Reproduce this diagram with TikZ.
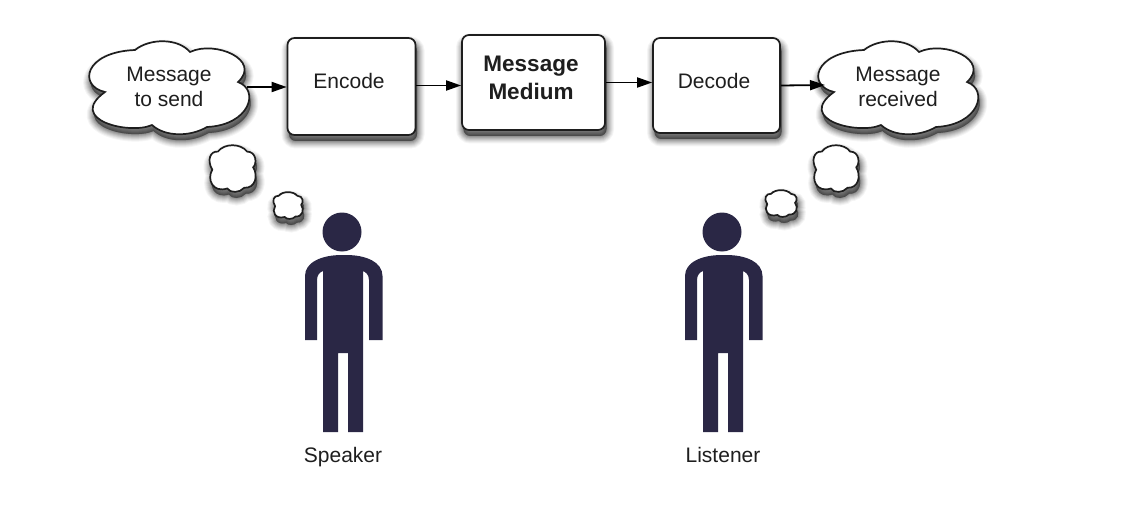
\documentclass[tikz,border=0pt]{standalone}
\usepackage{fontspec}
\setmainfont{Liberation Sans}
\usetikzlibrary{arrows.meta}
\definecolor{figure}{HTML}{2A2745}
\definecolor{inkc}{HTML}{1E1E1E}
\tikzset{
  softshadow/.style={
    preaction={fill=black,draw=black,opacity=.04,line width=15pt,transform canvas={shift={(1.5pt,-6pt)}}},
    preaction={fill=black,draw=black,opacity=.05,line width=13pt,transform canvas={shift={(1.5pt,-6pt)}}},
    preaction={fill=black,draw=black,opacity=.06,line width=11pt,transform canvas={shift={(1.5pt,-6pt)}}},
    preaction={fill=black,draw=black,opacity=.07,line width=9pt,transform canvas={shift={(1.5pt,-6pt)}}},
    preaction={fill=black,draw=black,opacity=.08,line width=7pt,transform canvas={shift={(1.5pt,-6pt)}}},
    preaction={fill=black,draw=black,opacity=.09,line width=5pt,transform canvas={shift={(1.5pt,-6pt)}}},
    preaction={fill=black,draw=black,opacity=.10,line width=3pt,transform canvas={shift={(1.5pt,-6pt)}}},
    preaction={fill=black,draw=black,opacity=.12,line width=1pt,transform canvas={shift={(1.5pt,-6pt)}}}},
  outline/.style={draw=inkc,line width=1.7pt,fill=white,softshadow},
  stepbox/.style={outline,rounded corners=7pt,inner sep=0pt,minimum width=#1},
  label text/.style={text=inkc,align=center,font=\fontsize{21}{24.5}\selectfont},
  flow/.style={draw=black,line width=1.8pt,-{Triangle[length=15pt,width=10pt]}},
  bigcloud/.pic={
    \draw[outline] (105,92) .. controls (78,86) and (84,52) .. (135,50)
      .. controls (150,38) and (178,38) .. (190,52)
      .. controls (215,40) and (262,60) .. (238,82)
      .. controls (260,90) and (250,125) .. (207,127)
      .. controls (190,137) and (165,137) .. (152,125)
      .. controls (130,135) and (66,120) .. (105,92) -- cycle;},
  puff/.pic={
    \draw[outline] (-.62,-.72) .. controls (-.35,-1.08) and (.35,-1.08) .. (.62,-.72)
      .. controls (1.02,-.72) and (1.05,-.2) .. (.88,-.05)
      .. controls (1.1,.3) and (.98,.85) .. (.5,.82)
      .. controls (.3,1.05) and (-.1,1.05) .. (-.22,.85)
      .. controls (-.85,1.05) and (-1.1,.45) .. (-.86,.05)
      .. controls (-1.1,-.35) and (-.95,-.75) .. (-.62,-.72) -- cycle;},
  person/.pic={
    \fill[figure] (342,232) circle[radius=19.5];
    \fill[figure] (305,340) -- (305,276)
      .. controls (305,262) and (322,255) .. (342,255) -- (346,255)
      .. controls (366,255) and (382.5,262) .. (382.5,276) -- (382.5,340) -- (369,340)
      -- (369,280) .. controls (369,274) and (365,272) .. (363,271)
      -- (363,432) -- (348,432) -- (348,353) -- (338,353) -- (338,432) -- (323,432)
      -- (323,271) .. controls (320,272) and (317,275) .. (317,280) -- (317,340) -- cycle;}
}
\begin{document}
\begin{tikzpicture}[x=1pt,y=-1pt]
\useasboundingbox (0,0) rectangle (1122,516);
% clouds
\pic at (0,0) {bigcloud};
\pic at (729,0) {bigcloud};
\pic[xscale=23.5,yscale=23.5] at (232.5,168.5) {puff};
\pic[xscale=15,yscale=13.5] at (288,205.5) {puff};
\pic[xscale=23,yscale=23.5] at (836,168.5) {puff};
\pic[xscale=16,yscale=13.5] at (781,203.5) {puff};
% boxes
\node[stepbox=128pt,minimum height=97pt] (encode) at (351.5,86.5) {};
\node[stepbox=143pt,minimum height=95pt] (medium) at (533.5,82.5) {};
\node[stepbox=127pt,minimum height=95pt] (decode) at (716.5,85.5) {};
% texts
\node[label text] (tsend) at (169,87) {Message\\to send};
\node[label text] (trecv) at (898,87) {Message\\received};
\node[label text] (tenc) at (349,81) {Encode};
\node[label text,font=\fontsize{22.5}{28}\bfseries\selectfont] (tmed) at (531,78) {Message\\Medium};
\node[label text] (tdec) at (714,81) {Decode};
\node[label text] (tspk) at (343,457) {Speaker};
\node[label text] (tlis) at (723,455) {Listener};
% people
\pic at (0,0) {person};
\pic at (380,0) {person};
% connectors
\coordinate (sendout) at (247,87);
\coordinate (recvin) at (825,85);
\draw[flow] (sendout) -- (encode.west |- sendout);
\draw[flow] (encode.east) ++(0,-1) coordinate (encout) -- (medium.west |- encout);
\draw[flow] (medium.east) -- (decode.west |- medium.east);
\draw[flow] (decode.east) -- (recvin);
\end{tikzpicture}
\end{document}
